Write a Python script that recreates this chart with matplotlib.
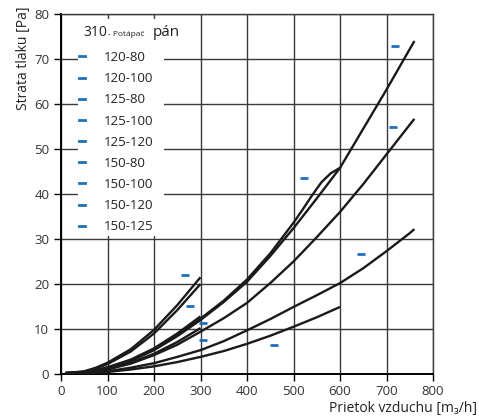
import matplotlib
matplotlib.use("Agg")
import matplotlib.pyplot as plt
from matplotlib.lines import Line2D
from matplotlib.patches import Rectangle

plt.rcParams['font.family'] = ['Open Sans', 'DejaVu Sans']

# ---- data ----
x_300 = [10, 50, 75, 100, 150, 200, 250, 300]
s1_y = [0.2, 0.6, 1.4, 2.5, 5.5, 9.8, 15.3, 21.5]
s2_y = [0.2, 0.5, 1.2, 2.2, 5.0, 9.0, 14.2, 20.0]
f_y = [0.2, 0.4, 0.85, 1.5, 3.2, 5.7, 9.0, 12.8]
g_y = [0.2, 0.3, 0.65, 1.1, 2.5, 4.5, 7.1, 10.2]

x_760 = [10, 50, 75, 100, 150, 200, 250, 300, 350, 400, 450, 500, 550, 600, 650, 700, 750, 760]
a_y = [0.2, 0.3, 0.75, 1.3, 2.9, 5.3, 8.4, 12.0, 16.0, 20.5, 26.2, 32.4, 39.0, 45.8, 54.5, 63.2, 72.2, 74.0]
c_y = [0.2, 0.25, 0.6, 1.0, 2.3, 4.2, 6.5, 9.4, 12.4, 15.8, 20.2, 25.0, 30.4, 36.0, 42.2, 48.8, 55.4, 56.7]
d_y = [0.2, 0.15, 0.35, 0.6, 1.4, 2.4, 3.8, 5.3, 7.3, 9.7, 12.2, 14.9, 17.5, 20.2, 23.5, 27.3, 31.3, 32.2]

x_b = [10, 50, 75, 100, 150, 200, 250, 300, 350, 400, 450, 500, 520, 540, 560, 580, 600]
b_y = [0.2, 0.35, 0.8, 1.4, 3.0, 5.5, 8.6, 12.3, 16.3, 21.0, 26.8, 33.6, 36.6, 39.7, 42.6, 44.6, 45.8]

x_e = [10, 50, 75, 100, 150, 200, 250, 300, 350, 400, 450, 500, 550, 600]
e_y = [0.2, 0.1, 0.25, 0.45, 1.0, 1.7, 2.65, 3.8, 5.1, 6.7, 8.5, 10.5, 12.6, 14.9]

label_x = [267, 277, 305, 305, 522, 718, 714, 645, 458]
label_y = [22.0, 15.1, 11.3, 7.6, 43.6, 72.9, 54.9, 26.7, 6.4]

legend_labels = ['120-80', '120-100', '125-80', '125-100', '125-120',
                 '150-80', '150-100', '150-120', '150-125']
x_ticks = [0, 100, 200, 300, 400, 500, 600, 700, 800]
y_ticks = [0, 10, 20, 30, 40, 50, 60, 70, 80]

BLUE = '#1f6fbf'
GRID = '#3a3a3a'

fig = plt.figure(figsize=(4.79, 4.19), dpi=100)
ax = fig.add_axes([61/479, 45/419, 372/479, 360/419])
ax.set_xlim(0, 800)
ax.set_ylim(0, 80)
ax.set_xticks(x_ticks)
ax.set_yticks(y_ticks)
ax.set_axisbelow(True)
ax.grid(True, color=GRID, lw=1.0)

for sp in ['top', 'right']:
    ax.spines[sp].set_color(GRID)
    ax.spines[sp].set_linewidth(1.0)
for sp in ['left', 'bottom']:
    ax.spines[sp].set_color('black')
    ax.spines[sp].set_linewidth(1.4)

ax.tick_params(axis='both', direction='out', length=5, width=1.0,
               labelsize=9.5, labelcolor='#333333', color='black')
ax.tick_params(axis='x', pad=3)

# white legend background covering grid
ax.add_patch(Rectangle((17/372, (374-236)/360), 86/372, (236-19)/360,
                       transform=ax.transAxes, facecolor='white',
                       edgecolor='none', zorder=1))

curves = [(x_300, s1_y), (x_300, s2_y), (x_300, f_y), (x_300, g_y),
          (x_b, b_y), (x_760, a_y), (x_760, c_y), (x_760, d_y), (x_e, e_y)]
for xs, ys in curves:
    ax.plot(xs, ys, color='#1a1a1a', lw=1.7, solid_capstyle='butt',
            solid_joinstyle='round', zorder=3)

ax.plot(label_x, label_y, ls='none', marker='_', markersize=6,
        markeredgewidth=2, color=BLUE, zorder=4)

handles = [Line2D([0], [0], color=BLUE, lw=2) for _ in legend_labels]
leg = ax.legend(handles, legend_labels, loc='upper left',
                bbox_to_anchor=((79-61)/372, (374-51)/360), frameon=False,
                borderpad=0, borderaxespad=0, handlelength=0.45,
                handletextpad=1.45, labelspacing=0.62, fontsize=9.5)
for t in leg.get_texts():
    t.set_color('#222222')

# legend title pieces
ax.text((83-61)/372, (374-33)/360, '310', transform=ax.transAxes,
        fontsize=10, va='center', ha='left', color='#222222')
ax.text((108-61)/372, (374-35)/360, '- Potápač', transform=ax.transAxes,
        fontsize=6, va='center', ha='left', color='#222222')
ax.text((153-61)/372, (374-33)/360, 'pán', transform=ax.transAxes,
        fontsize=11, va='center', ha='left', color='#222222')

ax.set_ylabel('Strata tlaku [Pa]', fontsize=10, color='#222222')
ax.yaxis.set_label_coords((31-61)/372, (374-58)/360)
ax.set_xlabel('Prietok vzduchu [m₃/h]', fontsize=10, color='#222222', ha='right')
ax.xaxis.set_label_coords((477-61)/372, (374-401)/360)

fig.savefig('out.png', dpi=100)
